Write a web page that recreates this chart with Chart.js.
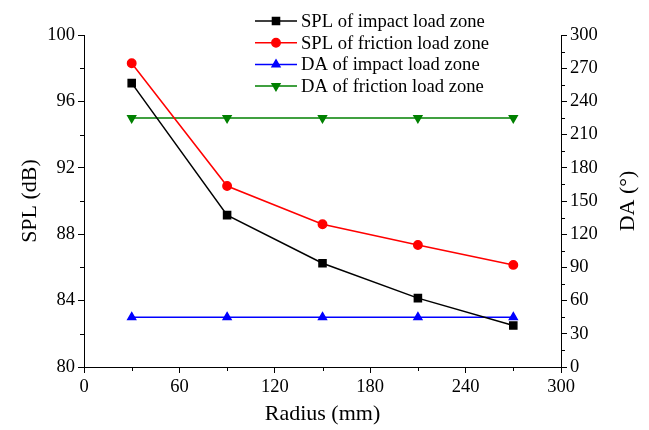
<!DOCTYPE html>
<html>
<head>
<meta charset="utf-8">
<script src="https://cdn.jsdelivr.net/npm/chart.js@4.4.1/dist/chart.umd.min.js"></script>
<style>
  html, body { margin: 0; padding: 0; background: #fff; }
  #wrap { width: 649px; height: 430px; }
  #probe { position: absolute; left: -1000px; top: 0; font-family: "Liberation Serif", "DejaVu Serif", serif; font-size: 18px; }
</style>
</head>
<body>
<div id="wrap"><canvas id="chart" width="649" height="430"></canvas></div>
<div id="probe">SPL of impact load zone 0123456789 (°)</div>
<script>
// radius of measuring points (mm)
const radius = [30, 90, 150, 210, 270];
// SPL (dB), left axis
const splImpact = [97.1, 89.15, 86.25, 84.15, 82.5];
const splFriction = [98.3, 90.9, 88.6, 87.35, 86.15];
// DA (deg), right axis
const daImpact = [45, 45, 45, 45, 45];
const daFriction = [225, 225, 225, 225, 225];
const seriesNames = [
  "SPL of impact load zone",
  "SPL of friction load zone",
  "DA of impact load zone",
  "DA of friction load zone"
];

const FONT = '"Liberation Serif", "DejaVu Serif", serif';

const pts = (ys) => radius.map((x, i) => ({ x: x, y: ys[i] }));

/* minor ticks halfway between the major ones */
const minorTicks = {
  id: "minorTicks",
  afterDraw(chart) {
    const ctx = chart.ctx;
    ctx.save();
    ctx.strokeStyle = "#000";
    ctx.lineWidth = 1;
    ["x", "y", "y1"].forEach((id) => {
      const s = chart.scales[id];
      const t = s.ticks;
      for (let i = 0; i < t.length - 1; i++) {
        const p = Math.round(s.getPixelForValue((t[i].value + t[i + 1].value) / 2)) + 0.5;
        ctx.beginPath();
        if (id === "x") { ctx.moveTo(p, s.top); ctx.lineTo(p, s.top + 4); }
        else if (id === "y") { ctx.moveTo(s.right, p); ctx.lineTo(s.right - 4, p); }
        else { ctx.moveTo(s.left, p); ctx.lineTo(s.left + 4, p); }
        ctx.stroke();
      }
    });
    ctx.restore();
  }
};

/* legend inside the plot + right axis title (reads bottom to top) */
const overlay = {
  id: "overlay",
  afterDraw(chart) {
    const ctx = chart.ctx;
    ctx.save();
    ctx.font = "18.6px " + FONT;
    ctx.textBaseline = "middle";
    chart.data.datasets.forEach((ds, i) => {
      const y = 21 + i * 21.7;
      ctx.strokeStyle = ds.borderColor;
      ctx.fillStyle = ds.borderColor;
      ctx.lineWidth = 1.5;
      ctx.beginPath();
      ctx.moveTo(255, y);
      ctx.lineTo(297, y);
      ctx.stroke();
      Chart.helpers.drawPoint(ctx, {
        pointStyle: ds.pointStyle,
        rotation: ds.pointRotation || 0,
        radius: ds.pointRadius,
        borderWidth: 1
      }, 276, y);
      ctx.fillStyle = "#000";
      ctx.fillText(ds.label, 301, y + 1);
    });

    const ca = chart.chartArea;
    ctx.font = "22px " + FONT;
    ctx.textAlign = "center";
    ctx.translate(628, (ca.top + ca.bottom) / 2);
    ctx.rotate(-Math.PI / 2);
    ctx.fillText("DA (\u00b0)", 0, 0);
    ctx.restore();
  }
};

const axisCommon = {
  grid: {
    display: true,
    drawOnChartArea: false,
    drawTicks: true,
    tickLength: 6,
    color: "#000",
    lineWidth: 1
  },
  border: { display: true, color: "#000", width: 1 },
  ticks: { color: "#000", font: { family: FONT, size: 18.5 }, padding: 3 }
};

function draw() {
  Chart.defaults.font.family = FONT;
  new Chart(document.getElementById("chart"), {
    type: "line",
    data: {
      datasets: [
        {
          label: seriesNames[0],
          data: pts(splImpact),
          yAxisID: "y",
          borderColor: "#000000",
          backgroundColor: "#000000",
          pointStyle: "rect",
          pointRadius: 5,
          borderWidth: 1.5
        },
        {
          label: seriesNames[1],
          data: pts(splFriction),
          yAxisID: "y",
          borderColor: "#ff0000",
          backgroundColor: "#ff0000",
          pointStyle: "circle",
          pointRadius: 4.2,
          borderWidth: 1.5
        },
        {
          label: seriesNames[2],
          data: pts(daImpact),
          yAxisID: "y1",
          borderColor: "#0000ff",
          backgroundColor: "#0000ff",
          pointStyle: "triangle",
          pointRadius: 4.5,
          borderWidth: 1.5
        },
        {
          label: seriesNames[3],
          data: pts(daFriction),
          yAxisID: "y1",
          borderColor: "#008000",
          backgroundColor: "#008000",
          pointStyle: "triangle",
          pointRotation: 180,
          pointRadius: 4.5,
          borderWidth: 1.5
        }
      ]
    },
    options: {
      responsive: false,
      animation: false,
      layout: { padding: { top: 35, left: 0, right: 0, bottom: 0 } },
      elements: { line: { tension: 0 }, point: { borderWidth: 1 } },
      plugins: {
        legend: { display: false },
        tooltip: { enabled: false }
      },
      scales: {
        x: {
          ...axisCommon,
          type: "linear",
          position: "bottom",
          min: 0,
          max: 300,
          ticks: { ...axisCommon.ticks, stepSize: 60 },
          title: {
            display: true,
            text: "Radius (mm)",
            color: "#000",
            font: { family: FONT, size: 22 },
            padding: { top: 0, bottom: 3 }
          },
          afterFit: (s) => { s.height = 63; }
        },
        y: {
          ...axisCommon,
          position: "left",
          min: 80,
          max: 100,
          ticks: { ...axisCommon.ticks, stepSize: 4 },
          title: {
            display: true,
            text: "SPL (dB)",
            color: "#000",
            font: { family: FONT, size: 22 },
            padding: { top: 17, bottom: 0 }
          },
          afterFit: (s) => { s.width = 84; }
        },
        y1: {
          ...axisCommon,
          position: "right",
          min: 0,
          max: 300,
          ticks: { ...axisCommon.ticks, stepSize: 30 },
          afterFit: (s) => { s.width = 88; }
        }
      }
    },
    plugins: [minorTicks, overlay]
  });
}

if (document.fonts && document.fonts.load) {
  document.fonts.load('18px "Liberation Serif"').then(draw, draw);
} else {
  draw();
}
</script>
</body>
</html>
